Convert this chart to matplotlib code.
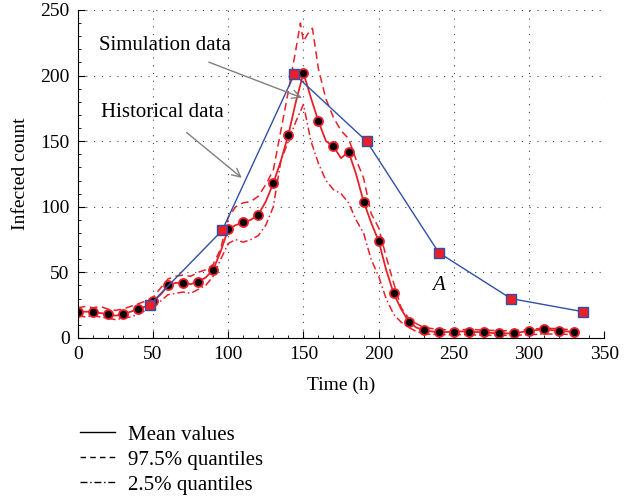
import matplotlib.pyplot as plt
from matplotlib.lines import Line2D

plt.rcParams['font.family'] = ['Liberation Serif', 'DejaVu Serif']
plt.rcParams['font.size'] = 14

# Mean values (line), markers every 10 h
t_mean = list(range(0, 335, 5))
mean = [20, 20, 20, 19, 18, 17, 18, 20, 22, 24, 28, 33, 40, 42, 42, 41, 43, 46, 52, 66,
        83, 86, 88, 90, 94, 104, 118, 135, 155, 180, 202, 183, 165, 150, 146, 137, 142, 125,
        104, 88, 74, 52, 34, 22, 12.5, 8, 6, 5, 4.3, 4.5, 4.8, 5, 4.8, 4.5, 4.3, 3.8, 3.5, 3.5,
        3.5, 4.5, 5.5, 6, 6.6, 6, 5.5, 5, 4.6]

# 97.5% quantiles
t_up = [0, 5, 10, 15, 20, 25, 30, 35, 40, 45, 50, 55, 60, 65, 70, 75, 80, 85, 90, 95,
        100, 105, 110, 115, 120, 125, 130, 135, 140, 145, 148, 150, 153, 156, 160, 165,
        170, 175, 180, 185, 190, 195, 200, 205, 210, 215, 220, 225, 230, 240, 250, 260,
        270, 280, 290, 300, 310, 320, 330]
upper = [23, 24, 23, 24, 22, 21, 22, 24, 26, 28, 31, 38, 45, 47, 48, 47, 50, 52, 56, 68,
         92, 100, 103, 104, 108, 117, 128, 158, 188, 220, 240, 226, 232, 236, 205, 182,
         168, 158, 152, 136, 122, 95, 84, 62, 42, 23, 15, 11, 8, 6.5, 6, 6.5, 6, 5.5, 5.5,
         6.5, 7.5, 7, 6]

# 2.5% quantiles
t_low = [0, 5, 10, 15, 20, 25, 30, 35, 40, 45, 50, 55, 60, 65, 70, 75, 80, 85, 90, 95,
         100, 105, 110, 115, 120, 125, 130, 135, 140, 145, 150, 155, 160, 165, 170, 175,
         180, 185, 190, 195, 200, 205, 210, 215, 220, 225, 230, 240, 250, 260, 270, 280,
         290, 300, 310, 320, 330]
lower = [17, 16, 17, 16, 15, 14, 15, 16, 18, 21, 24, 28, 33, 34, 35, 34, 37, 40, 47, 60,
         72, 75, 73, 75, 78, 86, 100, 135, 150, 165, 178, 150, 133, 120, 113, 110, 103, 90,
         80, 60, 47, 30, 18, 12, 8, 5, 3, 2.5, 2.5, 2.5, 2, 2, 2, 2.5, 3, 3, 2.5]

# Historical data
t_hist = [48, 96, 144, 192, 240, 288, 336]
hist = [25.5, 82, 201, 150, 65, 30, 20]

red = '#e8202a'
blue = '#3050a8'

fig = plt.figure(figsize=(6.38, 4.97), dpi=100)
ax = fig.add_axes([0.122, 0.320, 0.825, 0.660])

ax.plot(t_up, upper, color=red, lw=1.1, ls=(0, (5, 3)))
ax.plot(t_low, lower, color=red, lw=1.1, ls=(0, (5, 2, 1, 2)))
ax.plot(t_mean, mean, color=red, lw=1.3, marker='o', markevery=2, ms=6.5,
        mfc='black', mec=red, mew=1.3)
ax.plot(t_hist, hist, color=blue, lw=1.0, marker='s', ms=6.5, mfc=red, mec=blue, mew=1.0)

ax.annotate('Simulation data', xy=(149, 183), xytext=(58, 223), ha='center', va='center',
            fontsize=15, arrowprops=dict(arrowstyle='->', color='gray', lw=1.0,
                                         shrinkA=9, shrinkB=0))
ax.annotate('Historical data', xy=(109, 122), xytext=(56, 172), ha='center', va='center',
            fontsize=15, arrowprops=dict(arrowstyle='->', color='gray', lw=1.0,
                                         shrinkA=9, shrinkB=0))
ax.text(240, 40, 'A', fontsize=15, style='italic', ha='center', va='center')

ax.set_xlim(0, 350)
ax.set_ylim(0, 250)
ax.set_xticks(range(0, 351, 50))
ax.set_yticks(range(0, 251, 50))
ax.set_xticks(range(0, 351, 10), minor=True)
ax.set_yticks(range(0, 251, 10), minor=True)
ax.grid(True, which='major', color='#444444', ls=(0, (1, 6)), lw=0.8)
ax.spines['top'].set_visible(False)
ax.spines['right'].set_visible(False)
ax.tick_params(which='major', direction='in', length=5, labelsize=14, pad=6)
ax.tick_params(which='minor', direction='in', length=2)
ax.set_xlabel('Time (h)', fontsize=14, labelpad=10)
ax.set_ylabel('Infected count', fontsize=14, labelpad=8)

handles = [Line2D([], [], color='black', lw=1.0, ls='-'),
           Line2D([], [], color='black', lw=1.0, ls=(0, (4, 3))),
           Line2D([], [], color='black', lw=1.0, ls=(0, (5, 2, 1, 2)))]
fig.legend(handles, ['Mean values', '97.5% quantiles', '2.5% quantiles'],
           loc='upper left', bbox_to_anchor=(80 / 638, 1 - 425 / 497), frameon=False,
           borderpad=0, borderaxespad=0, handlelength=1.7, handletextpad=0.6,
           labelspacing=0.26, fontsize=15)

fig.savefig('out.png', dpi=100)
